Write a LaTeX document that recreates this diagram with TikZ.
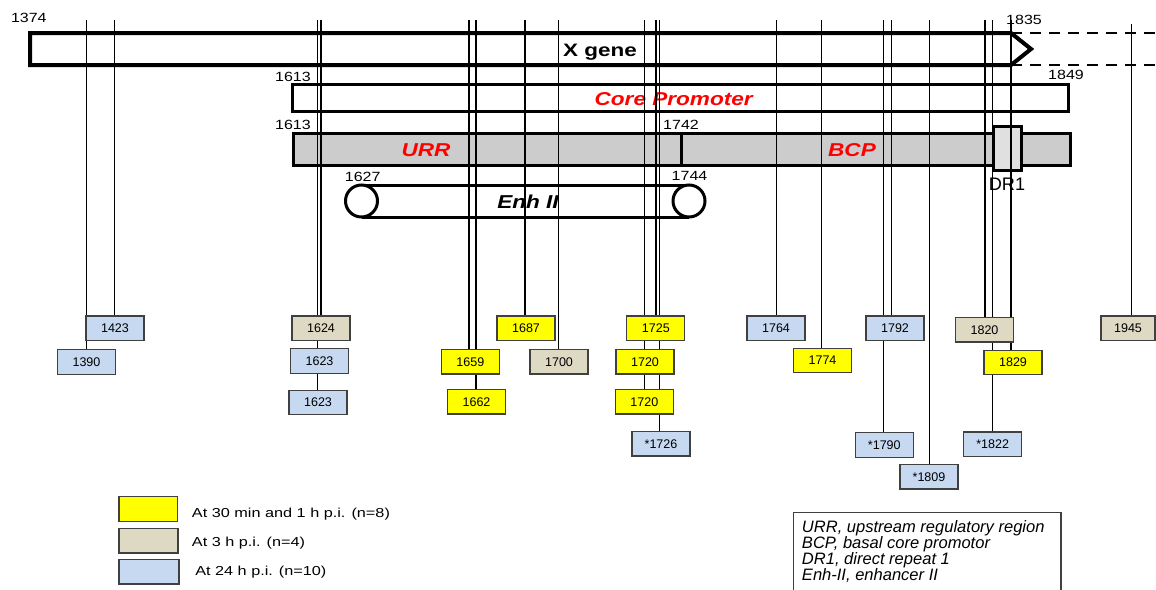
\documentclass[tikz,border=0pt]{standalone}
\usepackage{fontspec}
\setmainfont{Liberation Sans}
\usepackage{graphicx}
\definecolor{hYellow}{HTML}{FFFF00}
\definecolor{hBeige}{HTML}{DDD9C3}
\definecolor{hBlue}{HTML}{C6D9F1}
\definecolor{barGray}{HTML}{CCCCCC}
\definecolor{drGray}{HTML}{E0E0E0}
\definecolor{boxBorder}{HTML}{404040}
\pgfdeclarelayer{bars}
\pgfdeclarelayer{vlines}
\pgfsetlayers{bars,vlines,main}
\newcommand\wid[2]{\scalebox{#1}[1]{#2}}
\begin{document}
\begin{tikzpicture}[x=0.75pt,y=-0.75pt,
  num/.style={inner sep=0pt, anchor=base, font=\fontsize{10}{12}\selectfont},
  region/.style={inner sep=0pt, anchor=base, text=red, font=\fontsize{14}{16}\selectfont\bfseries\itshape},
  mbox/.style={draw=boxBorder, line width=0.9pt, minimum width=43.5pt, minimum height=18.4pt, inner sep=0pt, font=\fontsize{9.4}{11}\selectfont},
  yel/.style={mbox, fill=hYellow},
  bei/.style={mbox, fill=hBeige},
  blu/.style={mbox, fill=hBlue},
  legtext/.style={inner sep=0pt, anchor=base west, font=\fontsize{9.75}{12}\selectfont},
  vline/.style={line width=1pt},
  bar/.style={line width=2.25pt},
  gene/.style={line width=3pt, line join=miter}
]
\useasboundingbox (0,0) rectangle (1156,589);

% ---------------- bars and region labels ----------------
\begin{pgfonlayer}{bars}
  % X gene arrow
  \draw[gene] (1011,33) -- (30,33) -- (30,65) -- (1011,65) -- (1031,49) -- cycle;
  \draw[line width=1.5pt, dash pattern=on 8.25pt off 6pt] (1011,33) -- (1160,33);
  \draw[line width=1.5pt, dash pattern=on 8.25pt off 6pt] (1011,65) -- (1160,65);
  \node[inner sep=0pt, anchor=base, font=\fontsize{13.5}{16}\selectfont\bfseries] (xgene) at (600,56.7) {\wid{1.25}{X gene}};
  % Core promoter
  \draw[bar] (292,84) rectangle (1068.7,111);
  \node[region] (cp) at (673.7,105) {\wid{1.21}{Core Promoter}};
  % URR / BCP bar
  \draw[bar, fill=barGray] (293,133) rectangle (1070,165);
  \draw[bar] (681.7,133) -- (681.7,165);
  \node[region] (urr) at (426,156) {\wid{1.21}{URR}};
  \node[region] (bcp) at (852,156.7) {\wid{1.21}{BCP}};
  % DR1
  \draw[bar, fill=drGray] (993.3,126) rectangle (1021.7,170.7);
  \node[inner sep=0pt, anchor=base, font=\fontsize{13.6}{16}\selectfont] (dr1) at (1007,190) {DR1};
  % Enh II
  \draw[bar] (361.5,185) -- (689,185);
  \draw[bar] (361.5,217) -- (689,217);
  \draw[bar, fill=white] (361.5,201) circle[radius=12pt];
  \draw[bar, fill=white] (689,201) circle[radius=12pt];
  \node[inner sep=0pt, anchor=base, font=\fontsize{14}{16}\selectfont\bfseries\itshape] (enh) at (528,208.3) {\wid{1.21}{Enh II}};
  % position labels
  \node[num] (p1374) at (28.8,22.7) {\wid{1.2}{1374}};
  \node[num] (p1835) at (1024,24) {\wid{1.2}{1835}};
  \node[num] (p1613a) at (293,81) {\wid{1.2}{1613}};
  \node[num] (p1849) at (1066,79.3) {\wid{1.2}{1849}};
  \node[num] (p1613b) at (293,129.3) {\wid{1.2}{1613}};
  \node[num] (p1742) at (681,129.3) {\wid{1.2}{1742}};
  \node[num] (p1627) at (362.7,181.7) {\wid{1.2}{1627}};
  \node[num] (p1744) at (689.5,180.7) {\wid{1.2}{1744}};
\end{pgfonlayer}

% ---------------- mutation boxes ----------------
\node[blu] (b1423) at (115,328.3) {1423};
\node[blu] (b1390) at (86.5,362) {1390};
\node[bei] (b1624) at (321,328.3) {1624};
\node[blu] (b1623a) at (319.5,361) {1623};
\node[blu] (b1623b) at (318,402.5) {1623};
\node[yel] (b1687) at (526,328.3) {1687};
\node[yel] (b1659) at (470.3,361.7) {1659};
\node[yel] (b1662) at (476.5,401.7) {1662};
\node[bei] (b1700) at (559,361.7) {1700};
\node[yel] (b1725) at (655.8,328.3) {1725};
\node[yel] (b1720a) at (645,361.7) {1720};
\node[yel] (b1720b) at (644.3,401.7) {1720};
\node[blu] (b1726) at (661,443.8) {*1726};
\node[blu] (b1764) at (776,328.3) {1764};
\node[yel] (b1774) at (822.5,360.5) {1774};
\node[blu] (b1792) at (895,328.3) {1792};
\node[blu] (b1790) at (884.3,445) {*1790};
\node[blu] (b1809) at (929,476.7) {*1809};
\node[bei] (b1820) at (984.5,329.7) {1820};
\node[yel] (b1829) at (1013,362.5) {1829};
\node[blu] (b1822) at (992.7,444.2) {*1822};
\node[bei, minimum width=40.5pt] (b1945) at (1128,328.3) {1945};

% ---------------- vertical lines ----------------
\coordinate (t1) at (86.7,20);
\coordinate (t2) at (114.3,20);
\coordinate (t3) at (317.7,20);
\coordinate (t4) at (321,20);
\coordinate (t5) at (469,20);
\coordinate (t6) at (476,20);
\coordinate (t7) at (525,20);
\coordinate (t8) at (558.7,20);
\coordinate (t9) at (644.3,20);
\coordinate (t10) at (656,20);
\coordinate (t11) at (659.7,20);
\coordinate (t12) at (776.7,20);
\coordinate (t13) at (821.7,20);
\coordinate (t14) at (883.3,20);
\coordinate (t15) at (891.3,20);
\coordinate (t16) at (929.3,20);
\coordinate (t17) at (985,20);
\coordinate (t18) at (992.7,20);
\coordinate (t19) at (1011,20);
\coordinate (t20) at (1131.7,24);
\begin{pgfonlayer}{vlines}
  \draw[vline] (t1) -- (t1 |- b1390.north);
  \draw[vline] (t2) -- (t2 |- b1423.north);
  \draw[vline] (t3) -- (t3 |- b1623b.north);
  \draw[vline] (t4) -- (t4 |- b1624.north);
  \draw[vline] (t5) -- (t5 |- b1659.north);
  \draw[vline] (t6) -- (t6 |- b1662.north);
  \draw[vline] (t7) -- (t7 |- b1687.north);
  \draw[vline] (t8) -- (t8 |- b1700.north);
  \draw[vline] (t9) -- (t9 |- b1720b.north);
  \draw[vline] (t10) -- (t10 |- b1725.north);
  \draw[vline] (t11) -- (t11 |- b1726.north);
  \draw[vline] (t12) -- (t12 |- b1764.north);
  \draw[vline] (t13) -- (t13 |- b1774.north);
  \draw[vline] (t14) -- (t14 |- b1790.north);
  \draw[vline] (t15) -- (t15 |- b1792.north);
  \draw[vline] (t16) -- (t16 |- b1809.north);
  \draw[vline] (t17) -- (t17 |- b1820.north);
  \draw[vline] (t18) -- (t18 |- b1822.north);
  \draw[vline] (t19) -- (t19 |- b1829.north);
  \draw[vline] (t20) -- (t20 |- b1945.north);
\end{pgfonlayer}

% ---------------- legend ----------------
\node[yel, minimum width=44pt, minimum height=18.5pt] (ly) at (148.3,509) {};
\node[bei, minimum width=44.2pt, minimum height=18.2pt] (lb) at (148.5,540.8) {};
\node[blu, minimum width=45pt, minimum height=18.5pt] (ll) at (149,571.7) {};
\node[legtext] (lyt) at (191.7,517) {\wid{1.25}{At 30 min and 1 h p.i. (n=8)}};
\node[legtext] (lbt) at (191.7,546.5) {\wid{1.25}{At 3 h p.i. (n=4)}};
\node[legtext] (llt) at (195,575.5) {\wid{1.25}{At 24 h p.i. (n=10)}};

% ---------------- abbreviations ----------------
\draw[draw=boxBorder, line width=0.9pt] (793.3,512.3) rectangle (1061,600);
\node[inner sep=0pt, anchor=north west, align=left, font=\fontsize{12.4}{12}\selectfont\itshape] (info) at (801.7,520.7)
  {URR, upstream regulatory region\\BCP, basal core promotor\\DR1, direct repeat 1\\Enh-II, enhancer II};
\end{tikzpicture}
\end{document}
